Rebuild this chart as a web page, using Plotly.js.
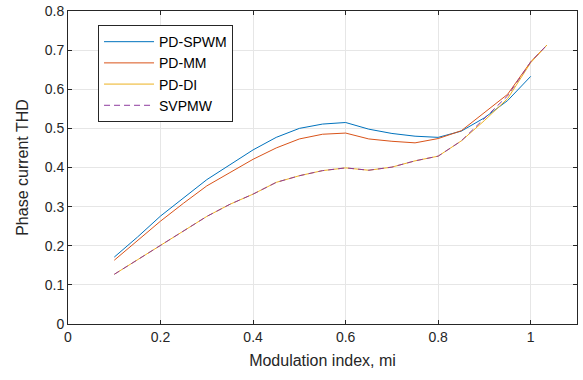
<!DOCTYPE html>
<html>
<head>
<meta charset="utf-8">
<script src="https://cdn.plot.ly/plotly-3.0.1.min.js"></script>
<style>html,body{margin:0;padding:0;background:#fff;}#chart{width:583px;height:380px;}</style>
</head>
<body>
<div id="chart"></div>
<script>
const mi = [0.1,0.15,0.2,0.25,0.3,0.35,0.4,0.45,0.5,0.55,0.6,0.65,0.7,0.75,0.8,0.85,0.9,0.95,1.0,1.035];
const miSpwm = [0.1,0.15,0.2,0.25,0.3,0.35,0.4,0.45,0.5,0.55,0.6,0.65,0.7,0.75,0.8,0.85,0.9,0.95,1.0];
const pdSpwm = [0.171,0.222,0.276,0.322,0.369,0.407,0.445,0.477,0.5,0.511,0.515,0.498,0.487,0.48,0.477,0.493,0.527,0.571,0.633];
const pdMm = [0.163,0.212,0.263,0.309,0.353,0.387,0.421,0.45,0.473,0.485,0.488,0.473,0.467,0.463,0.474,0.494,0.54,0.587,0.67,0.713];
const pdDi = [0.127,0.164,0.202,0.24,0.275,0.306,0.332,0.362,0.379,0.392,0.399,0.393,0.401,0.417,0.429,0.468,0.52,0.576,0.668,0.713];
const svpwm = [0.127,0.164,0.202,0.24,0.275,0.306,0.332,0.362,0.379,0.392,0.399,0.393,0.401,0.417,0.429,0.468,0.525,0.583,0.67,0.713];
const xTicks = [0,0.2,0.4,0.6,0.8,1];
const xTickText = ['0','0.2','0.4','0.6','0.8','1'];
const yTicks = [0,0.1,0.2,0.3,0.4,0.5,0.6,0.7,0.8];
const yTickText = ['0','0.1','0.2','0.3','0.4','0.5','0.6','0.7','0.8'];

const traces = [
  {x: miSpwm, y: pdSpwm, name: 'PD-SPWM', mode: 'lines', line: {color: '#0072BD', width: 1}},
  {x: mi, y: pdMm, name: 'PD-MM', mode: 'lines', line: {color: '#D95319', width: 1}},
  {x: mi, y: pdDi, name: 'PD-DI', mode: 'lines', line: {color: '#EDB120', width: 1}},
  {x: mi, y: svpwm, name: 'SVPMW', mode: 'lines', line: {color: '#8E3A9E', width: 1, dash: '6px,4px'}}
];

const axisCommon = {
  showline: true, linecolor: '#262626', linewidth: 1, mirror: 'ticks',
  ticks: 'inside', ticklen: 4, tickcolor: '#262626',
  showgrid: true, gridcolor: '#e6e6e6', gridwidth: 1, zeroline: false,
  tickfont: {family: 'Liberation Sans, Arial, sans-serif', size: 14, color: '#262626'}
};

const layout = {
  width: 583, height: 380,
  margin: {l: 68, r: 6, t: 11, b: 56},
  paper_bgcolor: '#fff', plot_bgcolor: '#fff',
  font: {family: 'Liberation Sans, Arial, sans-serif', color: '#262626'},
  xaxis: Object.assign({}, axisCommon, {
    range: [0, 1.1], tickvals: xTicks, ticktext: xTickText,
    title: {text: 'Modulation index, mi', font: {size: 16, color: '#262626'}, standoff: 11}
  }),
  yaxis: Object.assign({}, axisCommon, {
    range: [0, 0.8], tickvals: yTicks, ticktext: yTickText,
    title: {text: 'Phase current THD', font: {size: 16, color: '#262626'}, standoff: 12}
  }),
  showlegend: true,
  legend: {
    x: 0.059, y: 0.955, xanchor: 'left', yanchor: 'top',
    bgcolor: '#fff', bordercolor: '#262626', borderwidth: 1,
    font: {family: 'Liberation Sans, Arial, sans-serif', size: 14, color: '#000'},
    itemwidth: 50, tracegroupgap: 0
  }
};

Plotly.newPlot('chart', traces, layout, {displayModeBar: false, staticPlot: true});
</script>
</body>
</html>
